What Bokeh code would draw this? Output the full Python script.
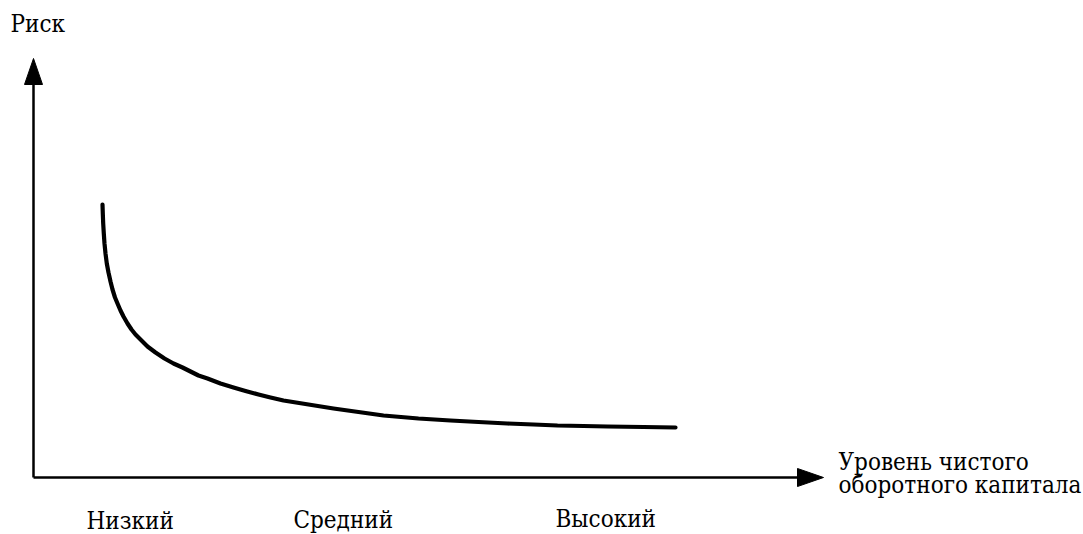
from bokeh.plotting import figure
from bokeh.models import Range1d, ColumnDataSource
from bokeh.core.properties import value
from bokeh.embed import file_html
from bokeh.resources import INLINE

# --- data (origin of the axes = (0, 0)) ---
curve_x = [69, 69.3, 69.7, 70.3, 71, 72, 73.3, 75, 77, 79, 81.5, 84, 87, 90, 94, 98, 102, 107,
           114, 122, 131, 140, 149, 157, 165, 174, 187, 200, 212, 225, 237, 250, 275, 300,
           325, 350, 385, 417, 445, 474, 500, 524, 550, 574, 610, 642]
curve_y = [273, 264, 254, 244, 234, 224, 214, 205, 196, 188, 180, 174, 167, 161, 154, 148, 143, 138,
           131, 125, 119, 114, 110, 106, 102, 99, 94, 90, 86.5, 83, 80, 77, 73, 69,
           65.5, 62, 59, 57, 55.5, 54, 53, 52, 51.5, 51, 50.5, 50]

level_labels = ["Низкий", "Средний", "Высокий"]
level_x = [53, 260, 522]
level_y = [-43, -42, -41.5]

y_title = "Риск"
x_title_lines = ["Уровень чистого", "оборотного капитала"]

x_axis_end = 790
y_axis_end = 419

W, H = 1083, 534
FONT = value("DejaVu Serif Condensed, DejaVu Serif")

p = figure(width=W, height=H, output_backend="svg", toolbar_location=None,
           x_range=Range1d(-33, -33 + W), y_range=Range1d(477 - H, 477),
           min_border=0)
p.axis.visible = False
p.grid.visible = False
p.outline_line_color = None
p.background_fill_color = "white"
p.border_fill_color = "white"

# axes lines
head_len, head_half = 26, 9
p.line([0, x_axis_end - head_len + 2], [0, 0], line_width=2.5, line_color="black")
p.line([0, 0], [0, y_axis_end - head_len + 2], line_width=2.5, line_color="black")
# arrow heads
p.patches(xs=[[x_axis_end - head_len, x_axis_end, x_axis_end - head_len],
              [-head_half, 0, head_half]],
          ys=[[head_half, 0, -head_half],
              [y_axis_end - head_len, y_axis_end, y_axis_end - head_len]],
          fill_color="black", line_color="black", line_width=1)

# curve
p.line(curve_x, curve_y, line_width=4.2, line_color="black", line_cap="round", line_join="round")

# texts
p.text(x=[-23], y=[453.5], text=[y_title], text_font=FONT, text_font_size="24px",
       text_baseline="alphabetic", text_align="left", text_color="black")
p.text(x=[805, 805], y=[15.5, -7.5], text=x_title_lines, text_font=FONT,
       text_font_size="24px", text_baseline="alphabetic", text_align="left", text_color="black")
src = ColumnDataSource(dict(x=level_x, y=level_y, t=level_labels))
p.text(x="x", y="y", text="t", source=src, text_font=FONT, text_font_size="24px",
       text_baseline="alphabetic", text_align="left", text_color="black")

open("out.html", "w").write(file_html(p, INLINE))
